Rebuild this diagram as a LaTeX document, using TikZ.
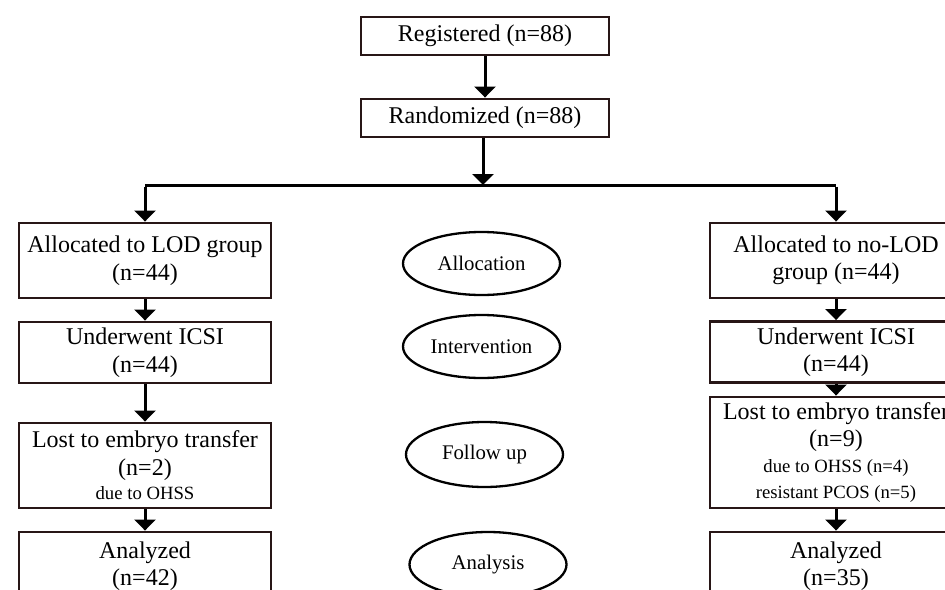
\documentclass[tikz,border=0pt]{standalone}
\usepackage{fontspec}
\setmainfont{Liberation Serif}
\usetikzlibrary{arrows.meta,shapes.geometric}
\definecolor{boxline}{RGB}{40,22,22}
\tikzset{
  box/.style={draw=boxline, line width=2.9pt, fill=white, minimum width=252pt, align=center, inner sep=0pt, font=\fontsize{24}{27.5}\selectfont},
  oval/.style={draw=black, line width=2.3pt, ellipse, minimum width=157pt, minimum height=63pt, inner sep=0pt, font=\fontsize{20.8}{24}\selectfont},
  arr/.style={line width=3pt, -{Triangle[width=21pt,length=11pt]}},
  link/.style={line width=3pt}
}
\newcommand{\smalltxt}{\fontsize{18.7}{25}\selectfont}
\begin{document}
\begin{tikzpicture}[x=1pt,y=-1pt]
\useasboundingbox (0,0) rectangle (945,589);
% top
\node[box, minimum width=248pt, minimum height=38pt] (reg) at (485,36) {Registered (n=88)};
\node[box, minimum width=248pt, minimum height=38pt] (rand) at (485,118) {Randomized (n=88)};
\coordinate (j) at (483,185);
\coordinate (jl) at (145,185);
\coordinate (jr) at (836,185);
% left
\node[box, minimum height=75pt] (lod) at (145,260.5) {Allocated to LOD group\\(n=44)};
\node[box, minimum height=61pt] (lodI) at (145,352.5) {Underwent ICSI\\(n=44)};
\node[box, minimum height=85pt] (lodL) at (145,465.5) {Lost to embryo transfer\\(n=2)\\[-3pt]{\smalltxt due to OHSS}};
\node[box, minimum height=68pt] (lodA) at (145,566) {Analyzed\\(n=42)};
% right
\node[box, minimum height=75pt] (nl) at (836,260.5) {Allocated to no-LOD\\group (n=44)};
\node[box, minimum height=61pt] (nlI) at (836,352) {Underwent ICSI\\(n=44)};
\node[box, minimum height=111pt] (nlL) at (836,452.5) {Lost to embryo transfer\\(n=9)\\[-2pt]{\smalltxt due to OHSS (n=4)}\\[-1pt]{\smalltxt resistant PCOS (n=5)}};
\node[box, minimum height=68pt] (nlA) at (836,566) {Analyzed\\(n=35)};
% ovals
\node[oval] (o1) at (481.5,263.5) {Allocation};
\node[oval] (o2) at (481.5,346.5) {Intervention};
\node[oval, minimum height=65pt] (o3) at (484.5,454.5) {Follow up};
\node[oval, minimum height=65pt] (o4) at (488,564.5) {Analysis};
% connectors
\draw[arr] (reg.south) -- (rand.north);
\draw[arr] (rand.south -| j) -- (j);
\draw[link] (jl) -- (jr);
\draw[arr] ([yshift=-1.5pt]jl) -- (lod.north);
\draw[arr] ([yshift=-1.5pt]jr) -- (nl.north);
\draw[arr] (lod) -- (lodI);
\draw[arr] (lodI) -- (lodL);
\draw[arr] (lodL) -- (lodA);
\draw[arr] (nl) -- (nlI);
\draw[arr] (nlI) -- (nlL);
\draw[arr] (nlL) -- (nlA);
\end{tikzpicture}
\end{document}
